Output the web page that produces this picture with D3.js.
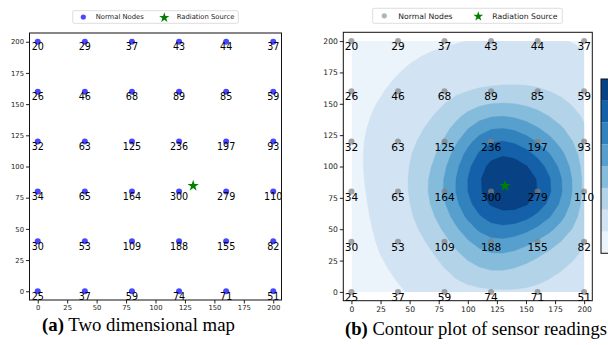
<!DOCTYPE html>
<html>
<head>
<meta charset="utf-8">
<script src="https://cdn.jsdelivr.net/npm/d3@7"></script>
<style>
  body { margin: 0; background: #fff; }
  svg { display: block; }
  .tick text { font-family: "DejaVu Sans", sans-serif; fill: #222; }
  .tick line { stroke: #222; }
</style>
</head>
<body>
<svg id="chart" width="608" height="345"></svg>
<script>
// Sensor grid positions (metres)
const nodeX = [0, 40, 80, 120, 160, 200];
const nodeY = [0, 40, 80, 120, 160, 200];
// Sensor readings, one row per nodeY value (bottom row first)
const readings = [
  [25, 37, 59, 74, 71, 51],
  [30, 53, 109, 188, 155, 82],
  [34, 65, 164, 300, 279, 110],
  [32, 63, 125, 236, 197, 93],
  [26, 46, 68, 89, 85, 59],
  [20, 29, 37, 43, 44, 37]
];
// Location of the radiation source
const sourceX = [132];
const sourceY = [85];
// Contour levels and axis ticks
const levels = [0, 40, 80, 120, 160, 200, 240, 280, 320];
const tickValues = [0, 25, 50, 75, 100, 125, 150, 175, 200];
const legendLabels = ["Normal Nodes", "Radiation Source"];
const captions = [["(a)", " Two dimensional map"], ["(b)", " Contour plot of sensor readings"]];

const svg = d3.select("#chart");
const domain = [-7, 207];

const blues = d3.piecewise(d3.interpolateRgb, [
  "#f7fbff", "#deebf7", "#c6dbef", "#9ecae1", "#6baed6",
  "#4292c6", "#2171b5", "#08519c", "#08306b"
]);
const nBands = levels.length - 1;
const bandColor = i => blues((i + 0.5) / nBands);

const nodes = [];
nodeY.forEach((y, j) => nodeX.forEach((x, i) => nodes.push({ x, y, v: readings[j][i] })));

// Natural cubic spline through (xs, ys)
function naturalSpline(xs, ys) {
  const n = xs.length;
  const M = new Array(n).fill(0);
  const a = [], b = [], c = [], d = [];
  for (let i = 1; i < n - 1; i++) {
    const h0 = xs[i] - xs[i - 1], h1 = xs[i + 1] - xs[i];
    a.push(h0); b.push(2 * (h0 + h1)); c.push(h1);
    d.push(6 * ((ys[i + 1] - ys[i]) / h1 - (ys[i] - ys[i - 1]) / h0));
  }
  const m = b.length;
  for (let i = 1; i < m; i++) {
    const w = a[i] / b[i - 1];
    b[i] -= w * c[i - 1];
    d[i] -= w * d[i - 1];
  }
  const sol = new Array(m);
  sol[m - 1] = d[m - 1] / b[m - 1];
  for (let i = m - 2; i >= 0; i--) sol[i] = (d[i] - c[i] * sol[i + 1]) / b[i];
  for (let i = 0; i < m; i++) M[i + 1] = sol[i];
  return x => {
    let k = 0;
    while (k < n - 2 && x > xs[k + 1]) k++;
    const h = xs[k + 1] - xs[k];
    const A = (xs[k + 1] - x) / h, B = (x - xs[k]) / h;
    return A * ys[k] + B * ys[k + 1] + ((A * A * A - A) * M[k] + (B * B * B - B) * M[k + 1]) * h * h / 6;
  };
}

// Bicubic surface sampled on a regular grid
const step = 10;
const gx = d3.range(0, 200 + 1e-9, step);
const gy = d3.range(0, 200 + 1e-9, step);
const rowSplines = readings.map(row => naturalSpline(nodeX, row));
const grid = new Array(gx.length * gy.length);
gx.forEach((x, i) => {
  const col = rowSplines.map(s => s(x));
  const cs = naturalSpline(nodeY, col);
  gy.forEach((y, j) => { grid[j * gx.length + i] = cs(y); });
});

function axesFrame(g, x0, y0, x1, y1, fontSize) {
  const xS = d3.scaleLinear().domain(domain).range([x0, x1]);
  const yS = d3.scaleLinear().domain(domain).range([y1, y0]);
  g.append("g").attr("transform", `translate(0,${y1})`)
    .call(d3.axisBottom(xS).tickValues(tickValues).tickSize(3.5).tickPadding(2))
    .call(a => a.select(".domain").remove())
    .selectAll("text").style("font-size", fontSize + "px");
  g.append("g").attr("transform", `translate(${x0},0)`)
    .call(d3.axisLeft(yS).tickValues(tickValues).tickSize(3.5).tickPadding(2))
    .call(a => a.select(".domain").remove())
    .selectAll("text").style("font-size", fontSize + "px");
  return { xS, yS };
}

function drawFrame(g, x0, y0, x1, y1) {
  g.append("rect").attr("x", x0).attr("y", y0).attr("width", x1 - x0).attr("height", y1 - y0)
    .attr("fill", "none").attr("stroke", "#111").attr("stroke-width", 1);
}

function legend(g, x, y, w, h, fontSize, dotColor, dotX, textX1, starX, textX2, starSize) {
  const cy = y + h / 2;
  g.append("rect").attr("x", x).attr("y", y).attr("width", w).attr("height", h)
    .attr("rx", 1.5).attr("fill", "#fff").attr("stroke", "#d4d4d4").attr("stroke-width", 0.8);
  g.append("circle").attr("cx", dotX).attr("cy", cy).attr("r", 2.6).attr("fill", dotColor);
  g.append("text").attr("x", textX1).attr("y", cy + fontSize * 0.36)
    .style("font-family", "DejaVu Sans, sans-serif").style("font-size", fontSize + "px")
    .attr("fill", "#222").text(legendLabels[0]);
  g.append("path").attr("d", d3.symbol(d3.symbolStar, starSize)())
    .attr("transform", `translate(${starX},${cy + 0.6})`).attr("fill", "#008000");
  g.append("text").attr("x", textX2).attr("y", cy + fontSize * 0.36)
    .style("font-family", "DejaVu Sans, sans-serif").style("font-size", fontSize + "px")
    .attr("fill", "#222").text(legendLabels[1]);
}

function nodeLayer(g, xS, yS, dotColor, fontSize, dy) {
  g.append("g").selectAll("circle").data(nodes).join("circle")
    .attr("cx", d => xS(d.x)).attr("cy", d => yS(d.y)).attr("r", 3)
    .attr("fill", dotColor);
  g.append("g").selectAll("text").data(nodes).join("text")
    .attr("x", d => xS(d.x)).attr("y", d => yS(d.y) + dy)
    .attr("text-anchor", "middle")
    .style("font-family", "DejaVu Sans, sans-serif").style("font-size", fontSize + "px")
    .attr("fill", "#000").text(d => d.v);
  g.append("g").selectAll("path").data(sourceX.map((x, i) => [x, sourceY[i]])).join("path")
    .attr("d", d3.symbol(d3.symbolStar, 40)())
    .attr("transform", d => `translate(${xS(d[0])},${yS(d[1]) + 0.6})`)
    .attr("fill", "#008000");
}

function caption(g, cx, y, parts, fontSize) {
  const t = g.append("text").attr("x", cx).attr("y", y).attr("text-anchor", "middle")
    .style("font-family", "Liberation Serif, Times New Roman, serif").style("font-size", fontSize + "px")
    .attr("fill", "#000");
  t.append("tspan").style("font-weight", "bold").text(parts[0]);
  t.append("tspan").text(parts[1]);
}

// ---- Panel (a): sensor map ----
{
  const g = svg.append("g");
  const [x0, y0, x1, y1] = [29.5, 33, 281.5, 300];
  const { xS, yS } = axesFrame(g, x0, y0, x1, y1, 6.8);
  nodeLayer(g, xS, yS, "rgba(0,0,255,0.72)", 9.6, 8.6);
  drawFrame(g, x0, y0, x1, y1);
  legend(g, 72.7, 10.7, 165.6, 12.6, 6.8, "rgba(0,0,255,0.72)", 83.3, 95.7, 164.3, 176.7, 32);
  caption(g, 138.5, 331, captions[0], 18.8);
}

// ---- Panel (b): contour plot ----
{
  const g = svg.append("g");
  const [x0, y0, x1, y1] = [343.3, 32.3, 592.3, 300.7];
  const xS = d3.scaleLinear().domain(domain).range([x0, x1]);
  const yS = d3.scaleLinear().domain(domain).range([y1, y0]);

  svg.append("defs").append("clipPath").attr("id", "field-clip")
    .append("rect").attr("x", xS(0)).attr("y", yS(200))
    .attr("width", xS(200) - xS(0)).attr("height", yS(0) - yS(200));

  const field = g.append("g").attr("clip-path", "url(#field-clip)");
  field.append("rect").attr("x", xS(0)).attr("y", yS(200))
    .attr("width", xS(200) - xS(0)).attr("height", yS(0) - yS(200))
    .attr("fill", bandColor(0));
  const proj = d3.geoTransform({
    point(px, py) { this.stream.point(xS((px - 0.5) * step), yS((py - 0.5) * step)); }
  });
  const path = d3.geoPath(proj);
  const contours = d3.contours().size([gx.length, gy.length])
    .thresholds(levels.slice(1, -1))(grid);
  field.selectAll("path").data(contours).join("path")
    .attr("d", path).attr("fill", (d, i) => bandColor(i + 1))
    .attr("stroke", (d, i) => bandColor(i + 1)).attr("stroke-width", 0.3);

  axesFrame(g, x0, y0, x1, y1, 7.6);
  nodeLayer(g, xS, yS, "rgba(128,128,128,0.7)", 10.6, 9.2);
  drawFrame(g, x0, y0, x1, y1);
  legend(g, 372.7, 8.3, 189.6, 15, 7.7, "rgba(128,128,128,0.6)", 384.3, 398.3, 478.3, 492.3, 30);
  caption(g, 476, 335, captions[1], 18.6);

  // colour bar
  const cb = d3.scaleLinear().domain([levels[0], levels[levels.length - 1]]).range([253.3, 79]);
  const cbg = g.append("g");
  cbg.selectAll("rect").data(d3.range(nBands)).join("rect")
    .attr("x", 601).attr("width", 40)
    .attr("y", i => cb(levels[i + 1])).attr("height", i => cb(levels[i]) - cb(levels[i + 1]))
    .attr("fill", i => bandColor(i));
  cbg.append("rect").attr("x", 601).attr("y", cb(levels[levels.length - 1]))
    .attr("width", 40).attr("height", cb(levels[0]) - cb(levels[levels.length - 1]))
    .attr("fill", "none").attr("stroke", "#111").attr("stroke-width", 1);
}
</script>
</body>
</html>
